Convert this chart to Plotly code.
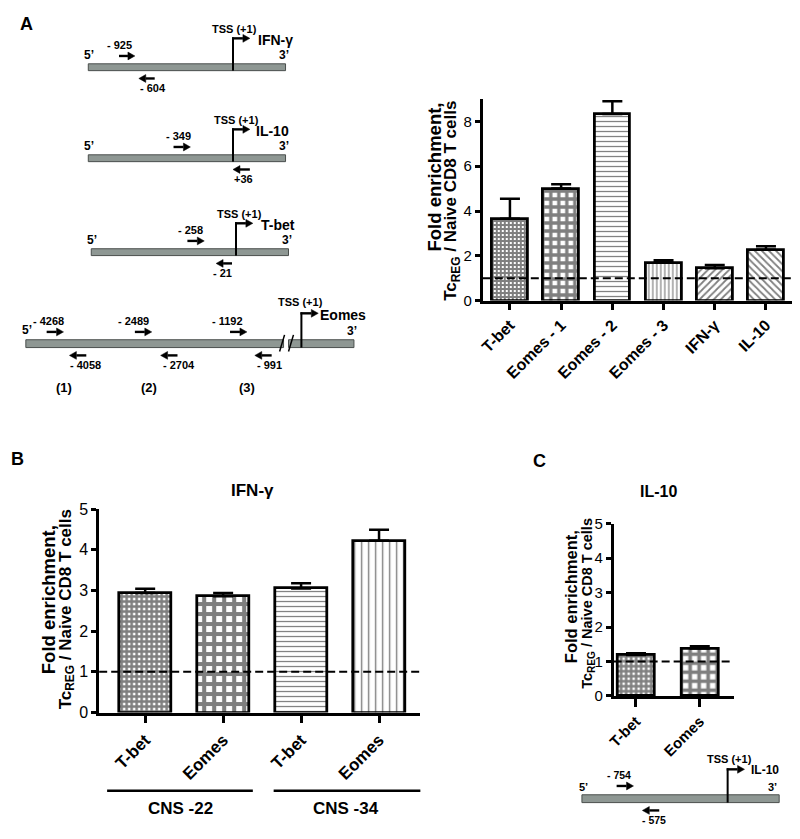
import plotly.graph_objects as go

W, H = 800, 839
FONT = "Liberation Sans, Arial, sans-serif"

# ---------------- data ----------------
a_labels = ["T-bet", "Eomes - 1", "Eomes - 2", "Eomes - 3", "IFN-γ", "IL-10"]
a_values = [3.65, 5.00, 8.33, 1.70, 1.44, 2.27]
a_errors = [0.90, 0.20, 0.57, 0.10, 0.15, 0.16]
a_yticks = [0, 2, 4, 6, 8]

b_labels = ["T-bet", "Eomes", "T-bet", "Eomes"]
b_values = [2.94, 2.86, 3.05, 4.22]
b_errors = [0.10, 0.08, 0.13, 0.27]
b_groups = ["CNS -22", "CNS -34"]
b_title = "IFN-γ"

c_labels = ["T-bet", "Eomes"]
c_values = [1.19, 1.38]
c_errors = [0.05, 0.06]
c_title = "IL-10"

bc_yticks = [0, 1, 2, 3, 4, 5]
baseline = 1
ytitle_lines = ["Fold enrichment,", "Tc<sub>REG</sub> / Naive CD8 T cells"]

# promoter diagrams
diag_genes = ["IFN-γ", "IL-10", "T-bet"]
diag_fwd = ["- 925", "- 349", "- 258"]
diag_rev = ["- 604", "+36", "- 21"]
eomes_fwd = ["- 4268", "- 2489", "- 1192"]
eomes_rev = ["- 4058", "- 2704", "- 991"]
eomes_regions = ["(1)", "(2)", "(3)"]
c_diag = dict(gene="IL-10", fwd="- 754", rev="- 575")

# ---------------- helpers ----------------
def px(x):
    return x / W


def py(y):
    return 1 - y / H


shapes = []
ann = []


def text(x, y, s, size=10, bold=True, anchor="center", angle=0):
    ann.append(dict(x=px(x), y=py(y), xref="paper", yref="paper",
                    text=f"<b>{s}</b>" if bold else s, showarrow=False,
                    font=dict(size=size, color="black", family=FONT),
                    xanchor=anchor, yanchor="middle", textangle=angle))


def line(x0, y0, x1, y1, w=2, color="black", dash=None):
    d = dict(color=color, width=w)
    if dash:
        d["dash"] = dash
    shapes.append(dict(type="line", xref="paper", yref="paper",
                       x0=px(x0), y0=py(y0), x1=px(x1), y1=py(y1), line=d))


def arrow(x_tail, x_head, y, w=2.4, hl=7, hw=4):
    d = 1 if x_head > x_tail else -1
    base = x_head - d * hl
    line(x_tail, y, base, y, w=w)
    path = (f"M {px(x_head)},{py(y)} L {px(base)},{py(y - hw)} "
            f"L {px(base)},{py(y + hw)} Z")
    shapes.append(dict(type="path", xref="paper", yref="paper", path=path,
                       fillcolor="black", line=dict(color="black", width=0.5)))


def dna(x0, x1, y0, y1):
    shapes.append(dict(type="rect", xref="paper", yref="paper",
                       x0=px(x0), x1=px(x1), y0=py(y1), y1=py(y0),
                       fillcolor="#8e9793", line=dict(color="#4a4f4d", width=1)))


def tss(x, ybot, ytop, xhead):
    line(x, ybot, x, ytop - 1, w=2)
    arrow(x - 1, xhead, ytop)


# ---------------- panel A diagrams ----------------
rows = [
    dict(x0=82, x1=281, yt=56, tssx=228, fwd=(113, 129), fl=113, rev=(149, 133), rl=147, glx=271, sx=230),
    dict(x0=82, x1=281, yt=149, tssx=228, fwd=(168, 185), fl=173, rev=(245, 228), rl=239, glx=268, sx=232),
    dict(x0=85, x1=284, yt=245, tssx=231, fwd=(182, 199), fl=185, rev=(227, 211), rl=217, glx=273, sx=235),
]
for i, r in enumerate(rows):
    yt = r["yt"]
    dna(r["x0"], r["x1"], yt, yt + 7)
    tss(r["tssx"], yt + 7, yt - 26, r["tssx"] + 17)
    text(r["sx"], yt - 36, "TSS (+1)", size=11)
    text(r["glx"], yt - 24, diag_genes[i], size=14)
    text(r["x0"] + 1, yt - 9, "5’", size=12)
    text(r["x1"] - 2, yt - 9, "3’", size=12)
    text(r["fl"], yt - 19, diag_fwd[i], size=11)
    arrow(r["fwd"][0], r["fwd"][1], yt - 8)
    arrow(r["rev"][0], r["rev"][1], yt + 15)
    text(r["rl"], yt + 25, diag_rev[i], size=11)

# Eomes diagram
ey = 338
dna(19, 279, ey, ey + 8)
dna(284, 350, ey, ey + 8)
line(275, ey + 12, 280, ey - 5, w=1.5)
line(284, ey + 12, 289, ey - 5, w=1.5)
tss(297, ey + 8, 311, 314)
text(296, 299, "TSS (+1)", size=11)
text(339, 313, "Eomes", size=14)
text(20, 328, "5’", size=12)
text(348, 329, "3’", size=12)
for lx, (ax0, ax1), s in zip([42, 128, 222], [(40, 57), (129, 146), (225, 242)], eomes_fwd):
    text(lx, 319, s, size=11)
    arrow(ax0, ax1, 330)
for lx, (ax0, ax1), s in zip([79, 174, 265], [(80, 63), (172, 155), (267, 250)], eomes_rev):
    text(lx, 364, s, size=11)
    arrow(ax0, ax1, 354)
for lx, s in zip([57, 143, 242], eomes_regions):
    text(lx, 387, s, size=13)

# panel C diagram
cy = 803
dna(580, 779, cy, cy + 8)
tss(727, cy + 8, 777, 744)
text(729, 766, "TSS (+1)", size=11)
text(765, 778, c_diag["gene"], size=12)
text(582, 795, "5’", size=11)
text(772, 795, "3’", size=11)
text(617, 783, c_diag["fwd"], size=10.5)
arrow(615, 632, 794)
arrow(658, 641, 819)
text(653, 829, c_diag["rev"], size=10.5)

# panel letters
text(20, 15, "A", size=18)
text(11, 460, "B", size=18)
text(537, 462, "C", size=18)

# panel titles
text(248, 492, b_title, size=17)
text(657, 493, c_title, size=16)

# y-axis titles (two rotated lines each)
for (x1, y1, s1, x2, y2, s2) in [(431, 172, 18.5, 449, 196, 17),
                                 (41.5, 604, 18.5, 60, 613, 17),
                                 (569, 601, 16.5, 586, 607, 14.5)]:
    for (x, y, s, t) in [(x1, y1, s1, ytitle_lines[0]), (x2, y2, s2, ytitle_lines[1])]:
        ann.append(dict(x=px(x), y=py(y), xref="paper", yref="paper",
                        text=f"<b>{t}</b>", showarrow=False, textangle=-90,
                        font=dict(size=s, color="black", family=FONT),
                        xanchor="center", yanchor="middle"))

# group lines for B
line(101, 799, 248, 799, w=2.5)
line(269, 799, 417, 799, w=2.5)
text(175, 817, b_groups[0], size=17)
text(342, 817, b_groups[1], size=17)

# ---------------- bar traces ----------------
def bars(x, vals, errs, width, shp, sz, sol, xa, ya):
    return go.Bar(
        x=x, y=vals, width=width, xaxis=xa, yaxis=ya, showlegend=False,
        marker=dict(color="white", line=dict(color="black", width=2.8),
                    pattern=dict(shape=shp, size=sz, solidity=sol,
                                 fgcolor="black", bgcolor="white")),
        error_y=dict(type="data", symmetric=False, array=errs,
                     arrayminus=[0] * len(errs), color="black",
                     thickness=2.5, width=10),
    )


fig = go.Figure()
fig.add_trace(bars(list(range(len(a_values))), a_values, a_errors, 0.70,
                   ["+", "+", "-", "|", "/", "\\"], [4, 8, 5, 4, 5, 5],
                   [0.75, 0.65, 0.25, 0.3, 0.35, 0.35], "x", "y"))
fig.add_trace(bars(list(range(len(b_values))), b_values, b_errors, 0.675,
                   ["+", "+", "-", "|"], [5, 10, 5, 7],
                   [0.75, 0.65, 0.25, 0.2], "x2", "y2"))
fig.add_trace(bars(list(range(len(c_values))), c_values, c_errors, 0.58,
                   ["+", "+"], [5, 9], [0.75, 0.65], "x3", "y3"))

for xr, yr in [("x", "y"), ("x2", "y2"), ("x3", "y3")]:
    shapes.append(dict(type="line", xref=f"{xr} domain", yref=yr, x0=0, x1=1,
                       y0=baseline, y1=baseline, layer="above",
                       line=dict(color="black", width=2, dash="8px,4px")))

axis_common = dict(showline=True, linewidth=2.8, linecolor="black", showgrid=False,
                   zeroline=False, tickcolor="black", tickwidth=2.5)


def xax(dom, rng, anchor, labels, size, ticklen):
    return dict(domain=dom, range=rng, anchor=anchor,
                tickvals=list(range(len(labels))),
                ticktext=[f"<b>{l}</b>" for l in labels], tickangle=-45,
                ticks="outside", ticklen=ticklen,
                tickfont=dict(size=size, family=FONT, color="black"), **axis_common)


def yax(dom, rng, anchor, vals, size):
    return dict(domain=dom, range=rng, anchor=anchor, tickvals=vals,
                ticks="outside", ticklen=5,
                tickfont=dict(size=size, family=FONT, color="black"), **axis_common)


fig.update_layout(
    width=W, height=H, margin=dict(l=0, r=0, t=0, b=0),
    plot_bgcolor="white", paper_bgcolor="white",
    font=dict(family=FONT, color="black"),
    xaxis=xax([px(480), px(792)], [-0.53, 5.51], "y", a_labels, 16, 6),
    yaxis=yax([py(298), py(92)], [0, 9], "x", a_yticks, 15),
    xaxis2=xax([px(93), px(417)], [-0.59, 3.53], "y2", b_labels, 17, 8),
    yaxis2=yax([py(719), py(511)], [0, 5], "x2", bc_yticks, 16),
    xaxis3=xax([px(612), px(733)], [-0.35, 1.53], "y3", c_labels, 15, 8),
    yaxis3=yax([py(702), py(526)], [0, 5], "x3", bc_yticks, 15),
    shapes=shapes, annotations=ann, bargap=0,
)

fig.write_html("out.html", config={"displayModeBar": False, "responsive": False},
               post_script="document.body.style.margin='0';document.body.style.overflow='hidden';")
